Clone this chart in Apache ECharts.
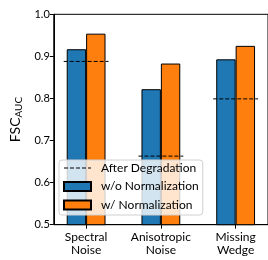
<!DOCTYPE html>
<html lang="en">
<head>
    <meta charset="UTF-8">
    <title>FSC AUC</title>
    <style type="text/css">
        *{ margin: 0; padding: 0; }
        #chart{ width: 268px; height: 260px; }
    </style>
</head>
<body>
<div id="chart"></div>
<script src="https://cdn.jsdelivr.net/npm/echarts@6/dist/echarts.min.js"></script>
<script>
    // 类别
    var categories = ['Spectral\nNoise', 'Anisotropic\nNoise', 'Missing\nWedge'];
    // 数据
    var withoutNorm = [0.917, 0.822, 0.893];
    var withNorm = [0.954, 0.883, 0.925];
    var afterDegradation = [0.888, 0.663, 0.799];
    var yTicks = [0.5, 0.6, 0.7, 0.8, 0.9, 1.0];

    var font = 'Lato';

    // 虚线：每组一段，中间断开
    var dashData = [];
    for (var i = 0; i < afterDegradation.length; i++) {
        if (i > 0) dashData.push('-');
        dashData.push([i - 0.3, afterDegradation[i]]);
        dashData.push([i + 0.3, afterDegradation[i]]);
    }

    var myChart = echarts.init(document.getElementById('chart'));
    var option = {
        animation: false,
        textStyle: { fontFamily: font, color: '#000' },
        grid: {
            left: 52.5, top: 14.3, width: 223.6, height: 210.4,
            show: true, borderColor: '#000', borderWidth: 1
        },
        legend: {
            orient: 'vertical',
            left: 59, top: 160,
            itemWidth: 27, itemHeight: 9, itemGap: 6.5,
            padding: [2, 4, 4, 4],
            backgroundColor: 'rgba(255,255,255,0.8)',
            borderColor: '#d0d0d0', borderWidth: 1, borderRadius: 3,
            textStyle: { fontFamily: font, fontSize: 12, color: '#000', padding: [0, 0, 0, 5] },
            data: [
                { name: 'After Degradation', itemStyle: { opacity: 0 }, lineStyle: { color: '#000', width: 1.2, type: [4, 2] } },
                { name: 'w/o Normalization', icon: 'rect' },
                { name: 'w/ Normalization', icon: 'rect' }
            ]
        },
        xAxis: {
            type: 'value',
            min: -0.433, max: 2.433,
            axisLine: { onZero: false, lineStyle: { color: '#000', width: 1 } },
            axisTick: { show: true, length: 4, customValues: [0, 1, 2], lineStyle: { color: '#000' } },
            axisLabel: {
                customValues: [0, 1, 2],
                formatter: function (v) { return categories[Math.round(v)]; },
                fontFamily: font, fontSize: 12, lineHeight: 13, color: '#000', margin: 6
            },
            splitLine: { show: false }
        },
        yAxis: {
            type: 'value',
            min: 0.5, max: 1.0, interval: 0.1,
            name: 'FSC{sub|AUC}',
            nameLocation: 'middle',
            nameRotate: 90,
            nameGap: 25,
            nameTextStyle: {
                fontFamily: font, fontSize: 14, color: '#000',
                rich: { sub: { fontFamily: font, fontSize: 10, color: '#000', padding: [7, 0, 0, 0] } }
            },
            axisLine: { show: true, onZero: false, lineStyle: { color: '#000', width: 1 } },
            axisTick: { show: true, length: 4, lineStyle: { color: '#000' } },
            axisLabel: {
                fontFamily: font, fontSize: 11, color: '#000', margin: 4,
                formatter: function (v) { return v.toFixed(1); }
            },
            splitLine: { show: false }
        },
        series: [
            {
                name: 'w/o Normalization',
                type: 'bar',
                barWidth: 19.4,
                barGap: '0%',
                itemStyle: { color: '#1f77b4', borderColor: '#000', borderWidth: 1 },
                data: withoutNorm.map(function (v, i) { return [i, v]; }),
                z: 2
            },
            {
                name: 'w/ Normalization',
                type: 'bar',
                barWidth: 19.4,
                barGap: '0%',
                itemStyle: { color: '#ff7f0e', borderColor: '#000', borderWidth: 1 },
                data: withNorm.map(function (v, i) { return [i, v]; }),
                z: 2
            },
            {
                name: 'After Degradation',
                type: 'line',
                symbol: 'none',
                lineStyle: { color: '#000', width: 1, type: [4, 2] },
                itemStyle: { color: '#000' },
                data: dashData,
                z: 3
            }
        ]
    };
    myChart.setOption(option);
</script>
</body>
</html>
